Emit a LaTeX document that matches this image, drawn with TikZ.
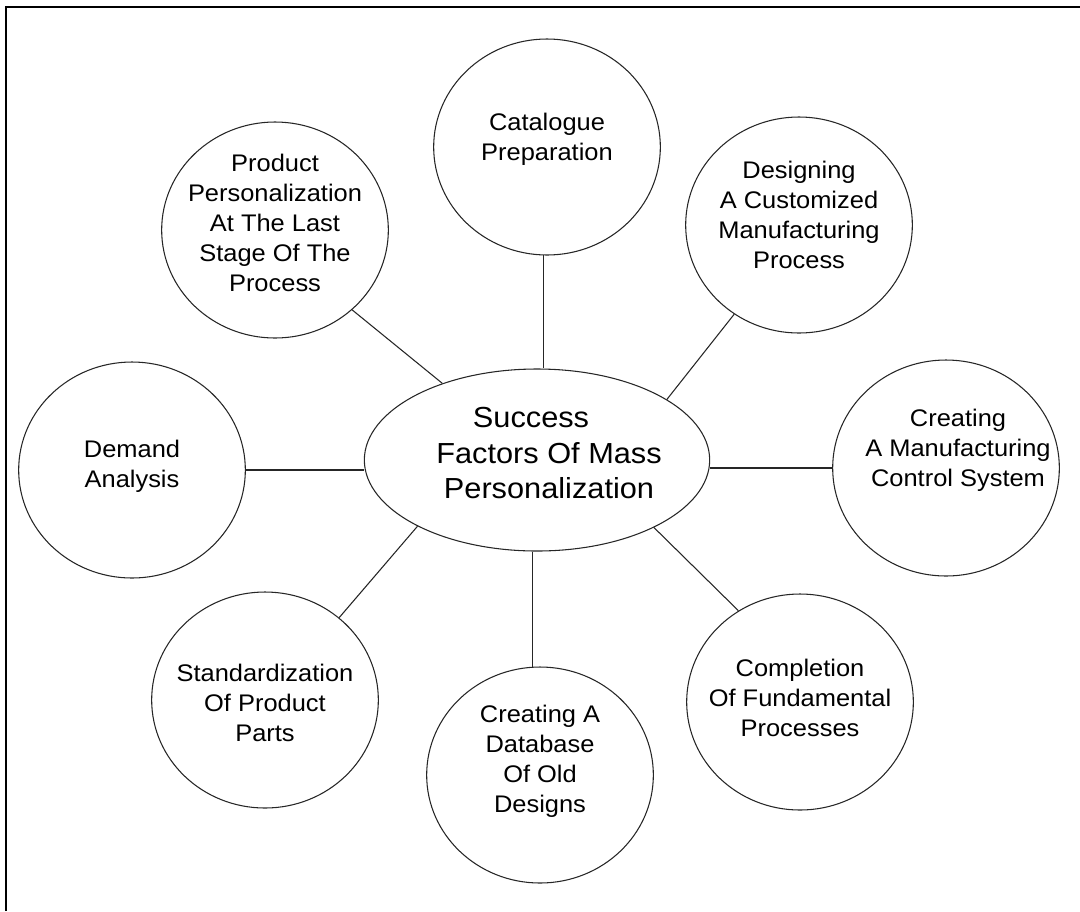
\documentclass[tikz,border=0pt]{standalone}
\usepackage{fontspec}
\setmainfont[FakeStretch=1.06]{Liberation Sans}
\usetikzlibrary{shapes.geometric}

\begin{document}
\begin{tikzpicture}[x=0.75pt,y=-0.75pt,
    factor/.style={draw=black!85, line width=0.8pt, ellipse, inner sep=0pt,
        minimum width=170pt, minimum height=162pt},
    hub/.style={factor, minimum width=259pt, minimum height=136.5pt},
    caption/.style={align=center, inner sep=0pt, font=\fontsize{18}{22.5}\selectfont},
    bigcaption/.style={caption, font=\fontsize{21.75}{26.6}\selectfont},
    link/.style={draw=black!85, line width=0.8pt}]

    % page and frame (only the top and left edges show)
    \useasboundingbox (0,0) rectangle (1080,911);
    \draw[line width=1.6pt] (6,911) -- (6,7) -- (1080,7);

    % central ellipse
    \node[hub, label={[bigcaption, xshift=9pt, yshift=5pt]center:{\hspace*{-27pt}Success\\Factors Of Mass\\Personalization}}] (hub) at (537,460) {};

    % the eight factors
    \node[factor, label={[caption, yshift=6pt]center:{Catalogue\\Preparation}}] (cat) at (547,147) {};
    \node[factor, label={[caption, yshift=5pt]center:{Product\\Personalization\\At The Last\\Stage Of The\\Process}}] (last) at (275,230) {};
    \node[factor, label={[caption, yshift=7.5pt]center:{Designing\\A Customized\\Manufacturing\\Process}}] (design) at (799,225) {};
    \node[factor, label={[caption, yshift=3pt]center:{Demand\\Analysis}}] (demand) at (132,470) {};
    \node[factor, label={[caption, xshift=9pt, yshift=13.5pt]center:{Creating\\A Manufacturing\\Control System}}] (control) at (946,468) {};
    \node[factor, label={[caption, yshift=-2pt]center:{Standardization\\Of Product\\Parts}}] (std) at (265,700) {};
    \node[factor, label={[caption, yshift=10.5pt]center:{Creating A\\Database\\Of Old\\Designs}}] (olddb) at (540,775) {};
    \node[factor, label={[caption, yshift=3pt]center:{Completion\\Of Fundamental\\Processes}}] (fund) at (800,702) {};

    % connect them to the hub
    \draw[link] (cat.268) -- (cat.268 |- hub.north);
    \draw[link] (hub.141) -- (last.314);
    \draw[link] (hub.25) -- (design.234);
    \draw[link] (demand.east) -- (demand.east -| hub.west);
    \draw[link] (control.west) -- (control.west -| hub.east);
    \draw[link] (hub.209) -- (std.48);
    \draw[link] (olddb.94) -- (olddb.94 |- hub.south);
    \draw[link] (hub.330) -- (fund.124);

\end{tikzpicture}
\end{document}
